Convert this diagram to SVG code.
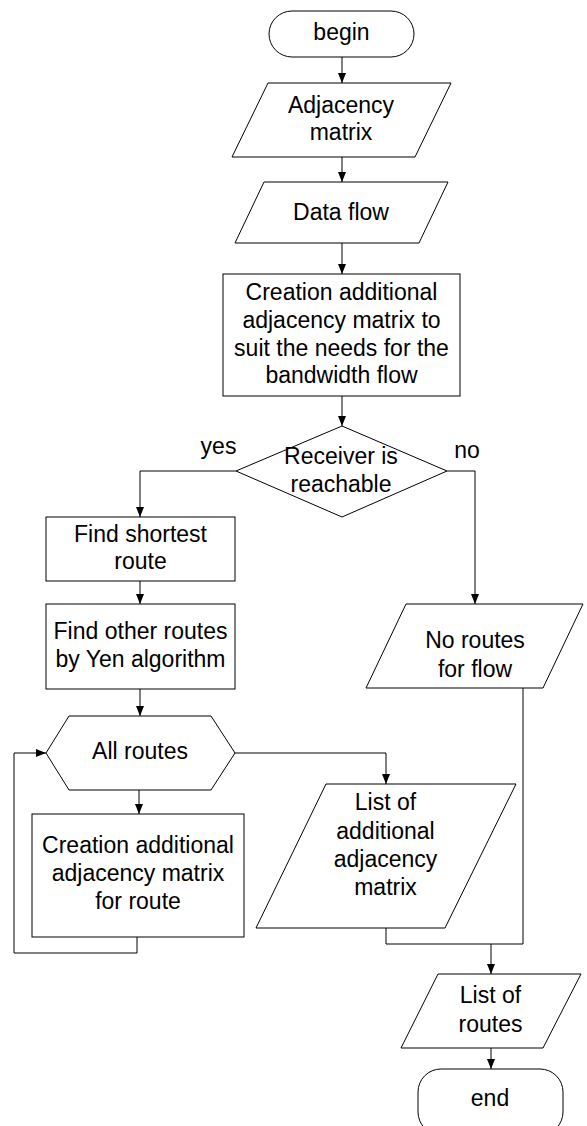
<svg xmlns="http://www.w3.org/2000/svg" width="587" height="1126" viewBox="0 0 587 1126">
<style>
.s{fill:#fff;stroke:#000;stroke-width:1}
.t{font-family:"Liberation Sans",Arial,sans-serif;font-size:23px;fill:#000;text-anchor:middle}
.c{fill:none;stroke:#000;stroke-width:1}
</style>
<defs>
<marker id="a" markerUnits="userSpaceOnUse" markerWidth="10" markerHeight="10" viewBox="0 0 10 10" refX="10" refY="5" orient="auto">
<path d="M0,1 L10,5 L0,9 Z" fill="#000"/>
</marker>
</defs>
<rect width="587" height="1126" fill="#fff"/>
<g id="connectors">
<path class="c" d="M342,57 V83" marker-end="url(#a)"/>
<path class="c" d="M342,157 V182" marker-end="url(#a)"/>
<path class="c" d="M342,243 V274" marker-end="url(#a)"/>
<path class="c" d="M342,396 V426" marker-end="url(#a)"/>
<path class="c" d="M236,471 H140 V517" marker-end="url(#a)"/>
<path class="c" d="M447,471 H475 V604" marker-end="url(#a)"/>
<path class="c" d="M140,581 V604" marker-end="url(#a)"/>
<path class="c" d="M140,689 V716" marker-end="url(#a)"/>
<path class="c" d="M139,790 V814" marker-end="url(#a)"/>
<path class="c" d="M137,937 V953 H14 V753 H46" marker-end="url(#a)"/>
<path class="c" d="M235,753 H386 V784" marker-end="url(#a)"/>
<path class="c" d="M386,928 V944 H523 V688"/>
<path class="c" d="M491,944 V974" marker-end="url(#a)"/>
<path class="c" d="M491,1048 V1069" marker-end="url(#a)"/>
<text class="t" x="218.5" y="454">yes</text>
<text class="t" x="467" y="458">no</text>
</g>
<g id="begin">
<rect class="s" x="269" y="11" width="145" height="46" rx="23" ry="23"/>
<text class="t" x="341.5" y="40">begin</text>
</g>
<g id="adjacency">
<polygon class="s" points="268,83 451,83 415,157 232,157"/>
<text class="t" x="341" y="113">Adjacency</text>
<text class="t" x="341" y="140">matrix</text>
</g>
<g id="dataflow">
<polygon class="s" points="264,182 448,182 419,243 235,243"/>
<text class="t" x="341" y="220">Data flow</text>
</g>
<g id="creation1">
<rect class="s" x="223" y="274" width="237" height="122"/>
<text class="t" x="341.5" y="300">Creation additional</text>
<text class="t" x="341.5" y="327.5">adjacency matrix to</text>
<text class="t" x="341.5" y="355.5">suit the needs for the</text>
<text class="t" x="341.5" y="383">bandwidth flow</text>
</g>
<g id="decision">
<polygon class="s" points="342,426 447,471 342,517 236,471"/>
<text class="t" x="341" y="464">Receiver is</text>
<text class="t" x="341" y="492">reachable</text>
</g>
<g id="shortest">
<rect class="s" x="46" y="517" width="189" height="64"/>
<text class="t" x="140.5" y="542">Find shortest</text>
<text class="t" x="140.5" y="569">route</text>
</g>
<g id="other">
<rect class="s" x="46" y="604" width="189" height="85"/>
<text class="t" x="140.5" y="639">Find other routes</text>
<text class="t" x="140.5" y="666.5">by Yen algorithm</text>
</g>
<g id="allroutes">
<polygon class="s" points="46,753 69,716 211,716 235,753 211,790 69,790"/>
<text class="t" x="140" y="759">All routes</text>
</g>
<g id="creation2">
<rect class="s" x="32" y="814" width="212" height="123"/>
<text class="t" x="138" y="853">Creation additional</text>
<text class="t" x="138" y="881">adjacency matrix</text>
<text class="t" x="138" y="909">for route</text>
</g>
<g id="noroutes">
<polygon class="s" points="406,604 583,604 543,688 366,688"/>
<text class="t" x="475" y="648">No routes</text>
<text class="t" x="475" y="677">for flow</text>
</g>
<g id="listadd">
<polygon class="s" points="326,784 516,784 445,928 256,928"/>
<text class="t" x="385.5" y="810">List of</text>
<text class="t" x="385.5" y="838.5">additional</text>
<text class="t" x="385.5" y="866.5">adjacency</text>
<text class="t" x="385.5" y="895">matrix</text>
</g>
<g id="listroutes">
<polygon class="s" points="438,974 581,974 543,1048 401,1048"/>
<text class="t" x="490.5" y="1003">List of</text>
<text class="t" x="490.5" y="1032">routes</text>
</g>
<g id="end">
<rect class="s" x="418" y="1069" width="145" height="66" rx="23" ry="23"/>
<text class="t" x="490" y="1106">end</text>
</g>
</svg>
